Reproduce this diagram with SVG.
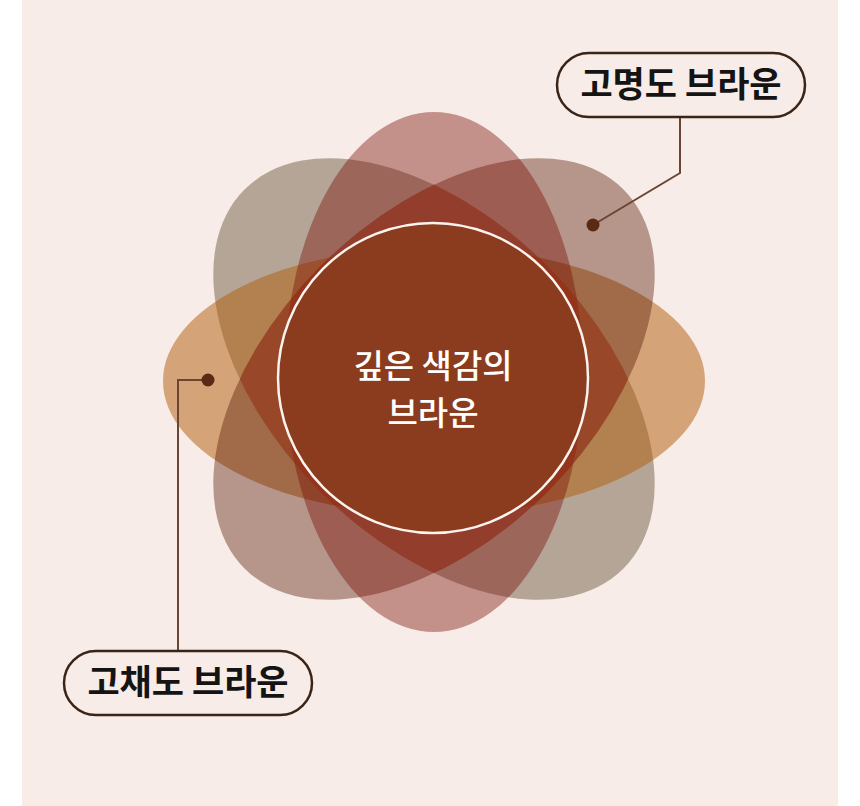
<svg xmlns="http://www.w3.org/2000/svg" width="860" height="806" viewBox="0 0 860 806">
  <style>
    .pill { fill: #f7ece7; stroke: #3a2418; stroke-width: 2.5; }
    .label { font-family: "Noto Sans CJK KR", "Noto Sans", sans-serif; font-size: 35px; font-weight: 700; fill: #141414; text-anchor: middle; }
    .center { font-family: "Noto Sans CJK KR", "Noto Sans", sans-serif; font-size: 33px; font-weight: 500; fill: #ffffff; text-anchor: middle; }
    .conn { fill: none; stroke: #6b4534; stroke-width: 2; }
    .dot { fill: #5b2a15; }
  </style>
  <defs>
    <clipPath id="clip-gray">
      <ellipse cx="434" cy="379" rx="268" ry="160" transform="rotate(45 434 379)"/>
    </clipPath>
  </defs>
  <rect x="0" y="0" width="860" height="806" fill="#ffffff"/>
  <rect x="22" y="0" width="816" height="806" fill="#f7ece7"/>

  <g id="flower">
    <ellipse id="diag-gray" cx="434" cy="379" rx="268" ry="160" transform="rotate(45 434 379)" fill="#523b1d" fill-opacity="0.4"/>
    <ellipse id="horizontal-tan" cx="434" cy="381" rx="271" ry="134" fill="#b15c09" fill-opacity="0.5"/>
    <ellipse id="diag-rose" cx="434" cy="379" rx="268" ry="160" transform="rotate(-45 434 379)" fill="#551300" fill-opacity="0.4"/>
    <ellipse id="vertical-pink" cx="434" cy="372" rx="149" ry="260" fill="#780b00" fill-opacity="0.4"/>
    <g id="diag-overlap" clip-path="url(#clip-gray)">
      <ellipse cx="434" cy="379" rx="268" ry="160" transform="rotate(-45 434 379)" fill="#af3219" fill-opacity="0.35"/>
    </g>
  </g>

  <g id="center-node">
    <circle cx="433" cy="378" r="155" fill="#8b3c1e" stroke="#fbf3ee" stroke-width="2.5"/>
    <text class="center" x="433" y="378">깊은 색감의</text>
    <text class="center" x="433" y="425">브라운</text>
  </g>

  <g id="connectors">
    <polyline class="conn" points="680,117 680,173 593,225"/>
    <polyline class="conn" points="208,380 178,380 178,651"/>
    <circle class="dot" cx="593" cy="225" r="6.5"/>
    <circle class="dot" cx="208" cy="380" r="6.5"/>
  </g>

  <g id="label-high-lightness">
    <rect class="pill" x="557" y="53" width="248" height="64" rx="32"/>
    <text class="label" x="681" y="97">고명도 브라운</text>
  </g>

  <g id="label-high-saturation">
    <rect class="pill" x="64" y="651" width="248" height="64" rx="32"/>
    <text class="label" x="188" y="695">고채도 브라운</text>
  </g>
</svg>
